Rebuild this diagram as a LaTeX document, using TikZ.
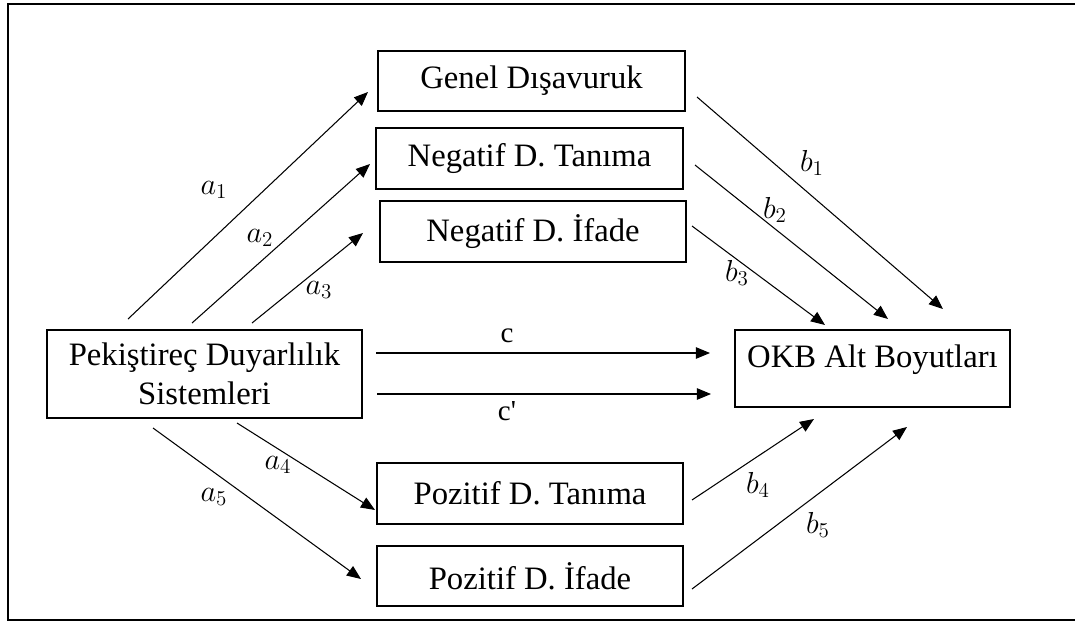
\documentclass[tikz,border=0pt]{standalone}
\usepackage{fontspec}
\setmainfont{Liberation Serif}
\usepackage{amsmath}
\usetikzlibrary{arrows.meta,positioning}

\tikzset{
	kutu/.style = {draw, line width = 0.8pt, inner sep = 0pt, align = center,
		minimum width = 6.12cm, minimum height = 1.22cm,
		font = \fontsize{18.6}{22}\selectfont},
	ok/.style = {-{Triangle[length = 8pt, width = 6.5pt]}, line width = 0.6pt},
	etiket/.style = {inner sep = 0pt, font = \fontsize{16.5}{19}\selectfont}
}

\begin{document}
\begin{tikzpicture}[x = 0.02cm, y = -0.02cm]
		\useasboundingbox (0,0) rectangle (1075,623);
		\draw[line width = 0.9pt] (1075,4) -- (8,4) -- (8,620) -- (1075,620);
		% kutular
		\node[kutu, minimum width = 6.14cm, minimum height = 1.2cm] (genel) at (531.5,81) {Genel Dışavuruk};
		\node[kutu, minimum width = 6.14cm] (negtan) at (529.5,158.5) {Negatif D. Tanıma};
		\node[kutu] (negifd) at (533,231.5) {Negatif D. İfade};
		\node[kutu, minimum width = 6.3cm, minimum height = 1.76cm] (pekis) at (204.5,374) {Pekiştireç Duyarlılık\\Sistemleri};
		\node[kutu] (poztan) at (530,493.5) {Pozitif D. Tanıma};
		\node[kutu, minimum height = 1.2cm] (pozifd) at (530,576) {Pozitif D. İfade};
		\node[kutu, minimum width = 5.5cm, minimum height = 1.54cm] (okb) at (872.5,368.5) {};
		\node[kutu, draw = none, minimum width = 0pt, minimum height = 0pt, anchor = north, below = 0.3cm of okb.north] (okbyazi) {OKB Alt Boyutları};
		% ok uclari
		\coordinate (a1s) at (128,319);  \coordinate (a1e) at (368,92);
		\coordinate (a2s) at (192,323);  \coordinate (a2e) at (370,164);
		\coordinate (a3s) at (252,323);  \coordinate (a3e) at (363,233);
		\coordinate (a4s) at (237,423);  \coordinate (a4e) at (375,510);
		\coordinate (a5s) at (153,428);  \coordinate (a5e) at (361,579);
		\coordinate (b1s) at (697,97);   \coordinate (b1e) at (943,309);
		\coordinate (b2s) at (695,165);  \coordinate (b2e) at (888,319);
		\coordinate (b3s) at (692,226);  \coordinate (b3e) at (825,325);
		\coordinate (b4s) at (692,500);  \coordinate (b4e) at (814,419);
		\coordinate (b5s) at (692,589);  \coordinate (b5e) at (907,427);
		\coordinate (cs) at (376,353);   \coordinate (ce) at (710,353);
		\coordinate (cps) at (377,394);  \coordinate (cpe) at (711,394);
		\foreach \k in {a1,a2,a3,a4,a5,b1,b2,b3,b4,b5,c,cp}
			\draw[ok] (\k s) -- (\k e);
		% etiketler
		\node[etiket] (la1) at (214,190) {$a_1$};
		\node[etiket] (la2) at (260,238) {$a_2$};
		\node[etiket] (la3) at (319,290) {$a_3$};
		\node[etiket] (la4) at (278,465) {$a_4$};
		\node[etiket] (la5) at (214,497) {$a_5$};
		\node[etiket] (lb1) at (812,163) {$b_1$};
		\node[etiket] (lb2) at (775,210) {$b_2$};
		\node[etiket] (lb3) at (737,273) {$b_3$};
		\node[etiket] (lb4) at (758,485) {$b_4$};
		\node[etiket] (lb5) at (818,525) {$b_5$};
		\node[etiket] (lc) at (507,336) {c};
		\node[etiket] (lcp) at (507,411) {c\textquotesingle};
	\end{tikzpicture}
\end{document}
